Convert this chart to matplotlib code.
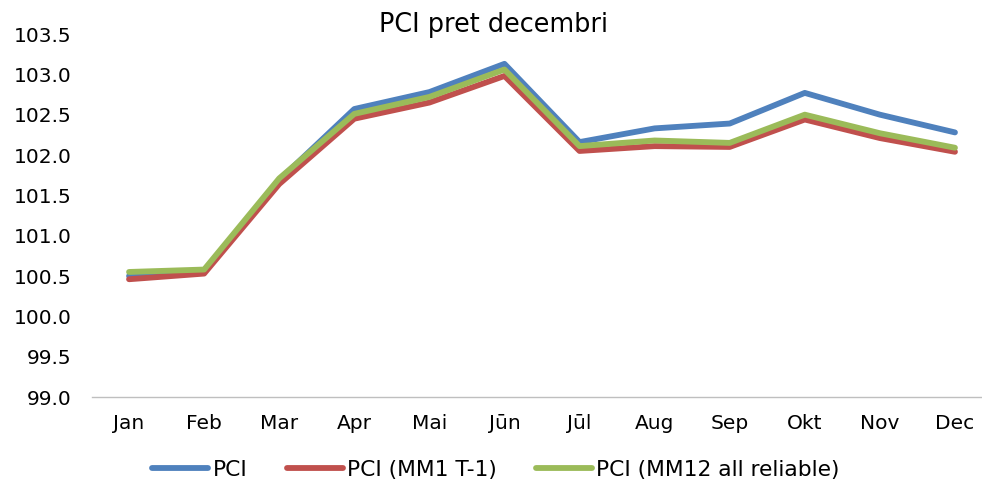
import matplotlib
matplotlib.use("Agg")
import matplotlib.pyplot as plt

months = ["Jan", "Feb", "Mar", "Apr", "Mai", "Jūn", "Jūl", "Aug", "Sep", "Okt", "Nov", "Dec"]
pci = [100.50, 100.55, 101.69, 102.57, 102.78, 103.13, 102.16, 102.33, 102.39, 102.77, 102.50, 102.28]
pci_mm1 = [100.46, 100.53, 101.64, 102.45, 102.65, 102.98, 102.05, 102.11, 102.10, 102.44, 102.21, 102.04]
pci_mm12 = [100.55, 100.58, 101.71, 102.51, 102.72, 103.06, 102.11, 102.18, 102.15, 102.50, 102.27, 102.09]
yticks = [99.0, 99.5, 100.0, 100.5, 101.0, 101.5, 102.0, 102.5, 103.0, 103.5]

plt.rcParams['font.family'] = ['DejaVu Sans']
fig = plt.figure(figsize=(9.82, 4.84), dpi=100)
ax = fig.add_axes([91.5/982, 87/484, 901/982, 363/484])

x = list(range(len(months)))
l1, = ax.plot(x, pci, color="#4F81BD", lw=4.2, solid_capstyle="round", label="PCI")
l2, = ax.plot(x, pci_mm1, color="#C0504D", lw=4.2, solid_capstyle="round", label="PCI (MM1 T-1)")
l3, = ax.plot(x, pci_mm12, color="#9BBB59", lw=4.2, solid_capstyle="round", label="PCI (MM12 all reliable)")

ax.set_xlim(-0.5, len(months) - 0.5)
ax.set_ylim(99.0, 103.5)
ax.set_xticks(x)
ax.set_xticklabels(months)
ax.set_yticks(yticks)
ax.set_yticklabels([f"{v:.1f}" for v in yticks])
ax.tick_params(axis="both", length=0, labelsize=14.5, colors="black")
ax.tick_params(axis="y", pad=14.5)
ax.tick_params(axis="x", pad=12)
for s in ["top", "right", "left"]:
    ax.spines[s].set_visible(False)
ax.spines["bottom"].set_color("#BFBFBF")
ax.spines["bottom"].set_linewidth(1)

fig.text(493/982, 1 - 25/484, "PCI pret decembri", ha="center", va="center", fontsize=18.4)

fig.legend(handles=[l1, l2, l3], loc="center", bbox_to_anchor=(496/982, 1 - 470/484),
           ncol=3, frameon=False, fontsize=15.7, handlelength=2.57, handletextpad=0.2,
           columnspacing=1.8)

fig.savefig("out.png", dpi=100)
